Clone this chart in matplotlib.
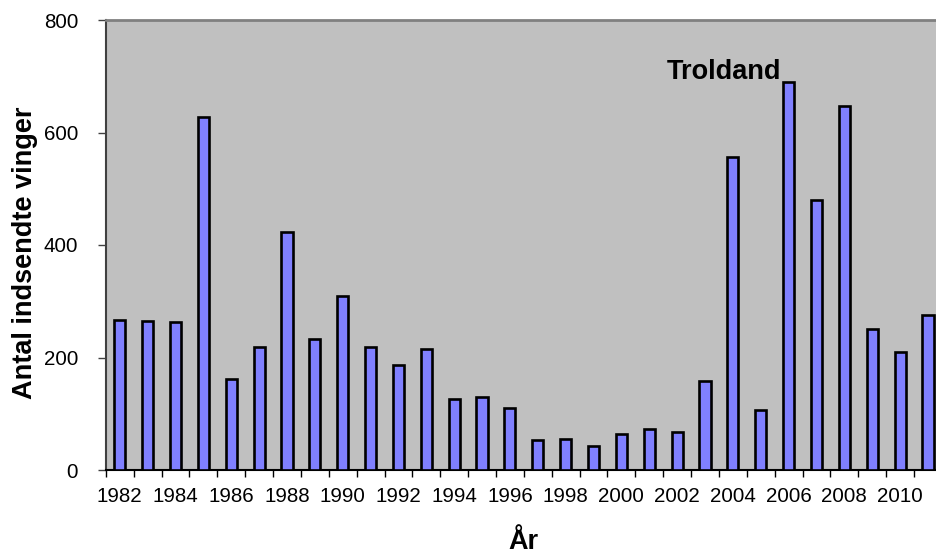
import matplotlib
matplotlib.use("Agg")
import matplotlib.pyplot as plt
import numpy as np

years = list(range(1982, 2012))
wings = [267, 265, 264, 628, 161, 218, 424, 233, 309, 219, 187, 216, 126, 129, 110,
         53, 56, 43, 64, 73, 67, 159, 557, 106, 689, 480, 647, 251, 210, 276]
year_labels = [str(y) for y in range(1982, 2011, 2)]
label_years = list(range(1982, 2011, 2))
y_ticks = [0, 200, 400, 600, 800]

plt.rcParams['font.family'] = ['Liberation Sans', 'DejaVu Sans']

fig = plt.figure(figsize=(9.36, 5.54), dpi=100)
W, H = 936, 554
left_px, right_px, top_px, bot_px = 105.8, 941.9, 20, 470
ax = fig.add_axes([left_px / W, (H - bot_px) / H, (right_px - left_px) / W, (bot_px - top_px) / H])
ax.set_facecolor('#C0C0C0')

ax.bar(years, wings, width=0.4, color='#8080FF', edgecolor='black', linewidth=1.9, zorder=3)

ax.set_xlim(1981.5, 2011.5)
ax.set_ylim(0, 800)
ax.set_yticks(y_ticks)
ax.set_yticklabels([str(v) for v in y_ticks])
ax.set_xticks(label_years)
ax.set_xticklabels(year_labels)
ax.set_xticks([1981.5 + k for k in range(31)], minor=True)
ax.tick_params(axis='x', which='major', length=0, labelsize=14.8, pad=12)
ax.tick_params(axis='x', which='minor', length=5, width=1, color='black', direction='out')
ax.tick_params(axis='y', which='major', length=6, width=1, color='#404040', labelsize=14.8, pad=14)

ax.spines['top'].set_color('#808080')
ax.spines['top'].set_linewidth(2)
ax.spines['right'].set_color('#808080')
ax.spines['left'].set_color('#404040')
ax.spines['left'].set_linewidth(1.5)
ax.spines['bottom'].set_color('black')
ax.spines['bottom'].set_linewidth(1.5)

ax.set_ylabel('Antal indsendte vinger', fontsize=19.5, fontweight='bold')
ax.yaxis.set_label_coords(-0.081, 0.482)
ax.set_xlabel('År', fontsize=19.5, fontweight='bold', labelpad=17)

ax.text(2006 - 0.27, 695, 'Troldand', fontsize=19.5, fontweight='bold', ha='right', va='baseline', zorder=4)

fig.savefig('out.png', dpi=100)
